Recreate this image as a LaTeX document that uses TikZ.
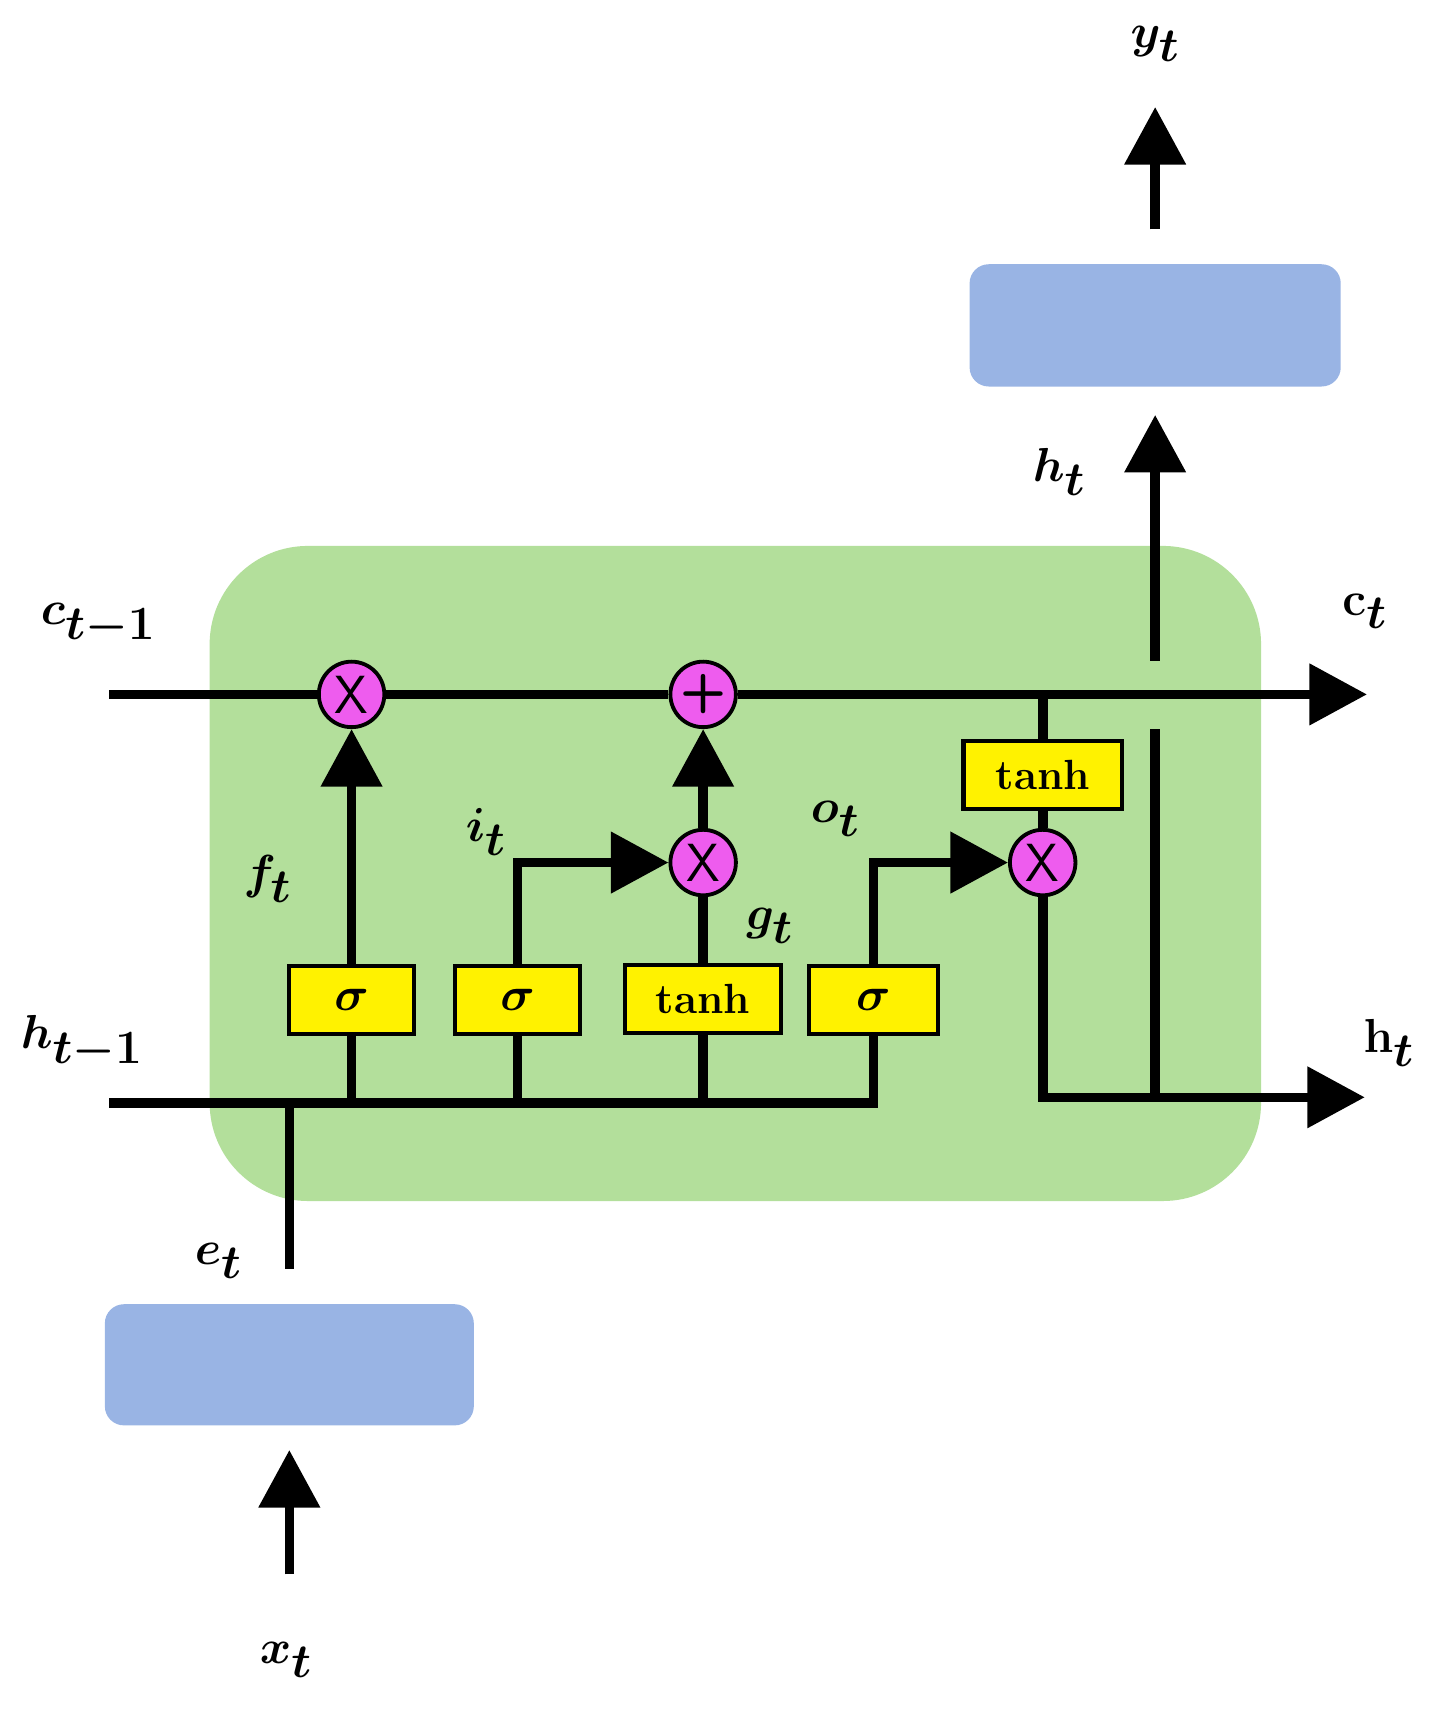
\documentclass[tikz,border=0pt]{standalone}
\usepackage{amsmath,bm}
\usetikzlibrary{arrows.meta}
\begin{document}
\begin{tikzpicture}[x=0.02cm,y=-0.02cm,
  ln/.style={line width=5pt},
  ar/.style={line width=5pt,-{Triangle[length=30pt,width=31pt]}},
  gate/.style={draw=black,line width=2.2pt,fill=yellow,minimum width=2.3cm,minimum height=1.25cm,inner sep=0pt,font=\fontsize{22}{26}\selectfont\bfseries},
  op/.style={circle,draw=black,line width=2pt,fill=mag,minimum size=1.2cm,inner sep=0pt,font=\fontsize{28}{32}\selectfont\sffamily},
  lab/.style={font=\fontsize{40}{46}\selectfont},
  blue/.style={fill=bbox,draw=none,rounded corners=0.35cm}]
\definecolor{gbg}{RGB}{179,223,155}
\definecolor{bbox}{RGB}{153,180,228}
\definecolor{mag}{RGB}{238,92,238}
\useasboundingbox (0,0) rectangle (1330,1579);
\fill[gbg,rounded corners=1.8cm] (192,500) rectangle (1155,1100);
\node[blue,minimum width=6.8cm,minimum height=2.24cm] (top) at (1058,298) {};
\node[blue,minimum width=6.76cm,minimum height=2.22cm] (bot) at (265,1250) {};
\coordinate (cin) at (100,636);
\coordinate (cout) at (1252,636);
\coordinate (hin) at (100,1010);
\coordinate (hturn) at (800,1010);
\coordinate (hout) at (1250,1005);
\node[op] (m1) at (322,636) {X};
\node[op] (pl) at (644,636) {\textbf{+}};
\node[op] (m2) at (644,790) {X};
\node[op] (m3) at (955,790) {X};
\node[gate] (gf) at (322,916) {\fontsize{32}{36}\selectfont$\bm{\sigma}$};
\node[gate] (gi) at (474,916) {\fontsize{32}{36}\selectfont$\bm{\sigma}$};
\node[gate,minimum width=2.85cm] (gg) at (644,915) {tanh};
\node[gate,minimum width=2.36cm] (go) at (800,916) {\fontsize{32}{36}\selectfont$\bm{\sigma}$};
\node[gate,minimum width=2.9cm] (gt) at (955,710) {tanh};
\draw[ln] (cin) -- (m1) -- (pl);
\draw[ar] (pl) -- (cout);
\draw[ln] (hin) -- (hturn) -- (go.south);
\draw[ln] (gf.south|-hin) -- (gf);
\draw[ln] (gi.south|-hin) -- (gi);
\draw[ln] (gg.south|-hin) -- (gg);
\draw[ar] (gf) -- (m1);
\draw[ar] (gi.north) |- (m2);
\draw[ln] (gg) -- (m2);
\draw[ar] (m2) -- (pl);
\draw[ar] (go.north) |- (m3);
\draw[ln] (955,636) -- (gt) -- (m3);
\draw[ar] (m3) |- (hout);
\coordinate (hv) at (1058,1005);
\draw[ln] (hv) -- (1058,668);
\coordinate (htip) at (1058,380);
\draw[ar] (1058,605) -- (htip);
\coordinate (ytop) at (1058,98);
\draw[ar] (1058,210) -- (ytop);
\coordinate (et) at (265,1162);
\draw[ln] (265,1010) -- (et);
\coordinate (xb) at (265,1442);
\coordinate (xtip) at (265,1328);
\draw[ar] (xb) -- (xtip);
\node[lab] (l1) at (1058,40) {$\bm{y_t}$};
\node[lab] (l2) at (970,432) {$\bm{h_t}$};
\node[lab] (l3) at (1250,560) {$\mathbf{c}_{\bm{t}}$};
\node[lab] (l4) at (1272,955) {$\mathbf{h}_{\bm{t}}$};
\node[lab] (l5) at (90,572) {$\bm{c_{t-1}}$};
\node[lab] (l6) at (75,955) {$\bm{h_{t-1}}$};
\node[lab] (l7) at (245,805) {$\bm{f_t}$};
\node[lab] (l8) at (445,762) {$\bm{i_t}$};
\node[lab] (l9) at (705,848) {$\bm{g_t}$};
\node[lab] (l10) at (765,750) {$\bm{o_t}$};
\node[lab] (l11) at (200,1155) {$\bm{e_t}$};
\node[lab] (l12) at (262,1520) {$\bm{x_t}$};
\end{tikzpicture}
\end{document}
